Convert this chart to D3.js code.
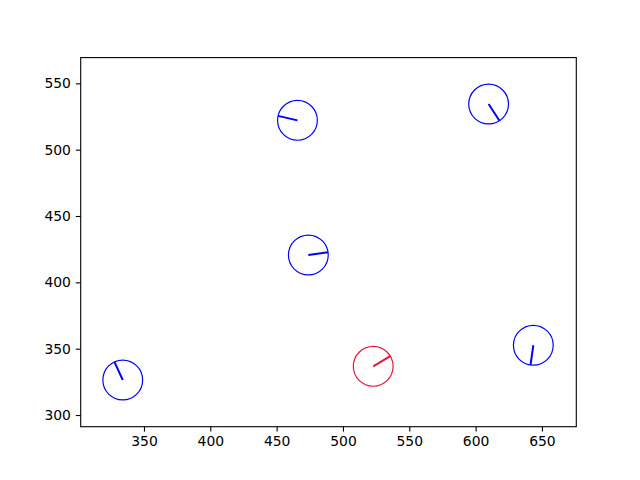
<!DOCTYPE html>
<html><head><meta charset="utf-8">
<script src="https://cdn.jsdelivr.net/npm/d3@7"></script>
<style>body{margin:0;background:#fff}svg{display:block}</style>
</head><body>
<script>
const xs = [334.0, 465.7, 473.9, 609.8, 643.5, 522.8];
const ys = [326.4, 522.1, 420.6, 534.4, 352.6, 336.7];
const headings = [114.7, 167.0, 7.7, -57.0, 262.0, 30.8];
const kinds = ["other", "other", "other", "other", "other", "self"];
const radius = 15;
const xTicks = [350, 400, 450, 500, 550, 600, 650];
const yTicks = [300, 350, 400, 450, 500, 550];
const xDomain = [302.3, 675.9];
const yDomain = [291.2, 569.4];

const W = 640, H = 480;
const L = 80.7, R = 576.3, T = 57.6, B = 426.7;
const svg = d3.select("body").append("svg").attr("width", W).attr("height", H);
const x = d3.scaleLinear().domain(xDomain).range([L, R]);
const y = d3.scaleLinear().domain(yDomain).range([B, T]);
const color = k => k === "self" ? "#e6163c" : "#0000ff";

const g = svg.append("g");
const data = xs.map((v, i) => ({x: v, y: ys[i], h: headings[i], k: kinds[i]}));
const rpx = x(radius) - x(0);
g.selectAll("circle").data(data).enter().append("circle")
  .attr("cx", d => x(d.x)).attr("cy", d => y(d.y)).attr("r", rpx)
  .attr("fill", "none").attr("stroke", d => color(d.k)).attr("stroke-width", 1.2);
g.selectAll("line.h").data(data).enter().append("line").attr("class", "h")
  .attr("x1", d => x(d.x)).attr("y1", d => y(d.y))
  .attr("x2", d => x(d.x + radius * Math.cos(d.h * Math.PI / 180)))
  .attr("y2", d => y(d.y + radius * Math.sin(d.h * Math.PI / 180)))
  .attr("stroke", d => color(d.k)).attr("stroke-width", 2);

const fs = "13.9px";
const xa = svg.append("g").attr("transform", `translate(0,${B})`)
  .call(d3.axisBottom(x).tickValues(xTicks).tickSize(4.9).tickPadding(4.9).tickFormat(d3.format("d")));
const ya = svg.append("g").attr("transform", `translate(${L},0)`)
  .call(d3.axisLeft(y).tickValues(yTicks).tickSize(4.9).tickPadding(4.9).tickFormat(d3.format("d")));
[xa, ya].forEach(a => {
  a.select(".domain").remove();
  a.selectAll("line").attr("stroke", "#000").attr("stroke-width", 1.1);
  a.selectAll("text").attr("font-family", "DejaVu Sans").attr("font-size", fs).attr("fill", "#000");
});
svg.append("rect").attr("x", L).attr("y", T).attr("width", R - L).attr("height", B - T)
  .attr("fill", "none").attr("stroke", "#000").attr("stroke-width", 1.1);
</script>
</body></html>
